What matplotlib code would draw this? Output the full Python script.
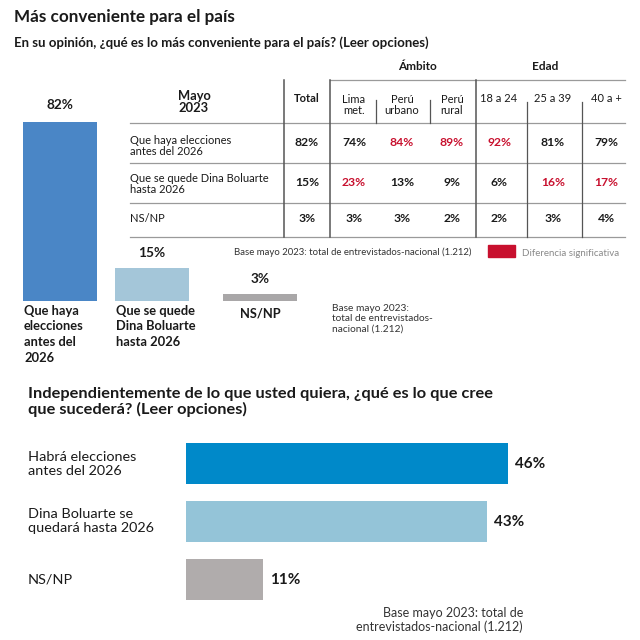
import matplotlib
matplotlib.use("Agg")
import matplotlib.pyplot as plt
from matplotlib.patches import Rectangle

plt.rcParams['font.family'] = ['Lato', 'DejaVu Sans']

# --- Datos ---
titulo = "Más conveniente para el país"
pregunta1 = "En su opinión, ¿qué es lo más conveniente para el país? (Leer opciones)"
pregunta2 = ("Independientemente de lo que usted quiera, ¿qué es lo que cree\n"
             "que sucederá? (Leer opciones)")
nota_base = "Base mayo 2023: total de entrevistados-nacional (1.212)"

cat_barras = ["Que haya\nelecciones\nantes del\n2026", "Que se quede\nDina Boluarte\nhasta 2026", "NS/NP"]
val_barras = [82, 15, 3]

filas_tabla = ["Que haya elecciones\nantes del 2026", "Que se quede Dina Boluarte\nhasta 2026", "NS/NP"]
cols_tabla = ["Total", "Lima\nmet.", "Perú\nurbano", "Perú\nrural", "18 a 24", "25 a 39", "40 a +"]
valores_tabla = [
    [82, 74, 84, 89, 92, 81, 79],
    [15, 23, 13, 9, 6, 16, 17],
    [3, 3, 3, 2, 2, 3, 4],
]
signif_tabla = [
    [False, False, True, True, True, False, False],
    [False, True, False, False, False, True, True],
    [False, False, False, False, False, False, False],
]

cat_futuro = ["Habrá elecciones\nantes del 2026", "Dina Boluarte se\nquedará hasta 2026", "NS/NP"]
val_futuro = [46, 43, 11]

# --- Estilo ---
ROJO = "#c8102e"
NEGRO = "#1a1a1a"
col_barras = ["#4a86c6", "#a4c6d9", "#a9a7a8"]
col_futuro = ["#0089c9", "#94c4d8", "#b0acac"]

fig = plt.figure(figsize=(6.4, 6.4), dpi=100)
fig.patch.set_facecolor("white")

# capa de fondo en coordenadas de pixel (origen arriba a la izquierda)
ax0 = fig.add_axes([0, 0, 1, 1])
ax0.set_xlim(0, 640)
ax0.set_ylim(640, 0)
ax0.axis("off")

ax0.text(14, 17, titulo, fontsize=12.3, fontweight="bold", color=NEGRO, va="center")
ax0.text(14, 43, pregunta1, fontsize=9.5, fontweight="bold", color=NEGRO, va="center")

# ----------------------------------------------------------------------
# 1) Barras verticales
# ----------------------------------------------------------------------
ax1 = fig.add_axes([0, (640 - 301) / 640, 320 / 640, 179 / 640])
ax1.set_xlim(0, 320)
ax1.set_ylim(0, max(val_barras))
ax1.axis("off")
pos_x = [60, 152, 260]
ax1.bar(pos_x, val_barras, width=74, color=col_barras)
for x, v in zip(pos_x, val_barras):
    off = 8 if v == max(val_barras) else 7
    ax1.annotate(f"{v}%", (x, v), xytext=(0, off), textcoords="offset points",
                 ha="center", va="bottom", fontsize=9.8, fontweight="bold", color=NEGRO)

ax0.text(24, 305, cat_barras[0], fontsize=9.3, fontweight="bold", color=NEGRO,
         va="top", ha="left", linespacing=1.35)
ax0.text(116, 305, cat_barras[1], fontsize=9.3, fontweight="bold", color=NEGRO,
         va="top", ha="left", linespacing=1.35)
ax0.text(260, 308, cat_barras[2], fontsize=9.3, fontweight="bold", color=NEGRO,
         va="top", ha="center")
ax0.text(332, 304, "Base mayo 2023:\ntotal de entrevistados-\nnacional (1.212)",
         fontsize=7.3, color="#333333", va="top", ha="left", linespacing=1.2)

# ----------------------------------------------------------------------
# 2) Tabla
# ----------------------------------------------------------------------
col_x = [307, 354, 402, 452, 499, 553, 606]
fila_y = [143, 182, 218]
fila_lbl_y = [146, 184, 218]
LG = "#9a9a9a"
LD = "#555555"

for y in [123, 163, 203, 237]:
    ax0.plot([130, 625], [y, y], color=LG, lw=0.9)
ax0.plot([330, 625], [80, 80], color=LG, lw=0.9)
for x in [284, 330, 476]:
    ax0.plot([x, x], [80, 237], color=LD, lw=1.1)
for x in [376, 430]:
    ax0.plot([x, x], [100, 123], color=LD, lw=0.9)
for x in [527, 582]:
    ax0.plot([x, x], [102, 237], color=LD, lw=0.9)

ax0.text(194, 102, "Mayo\n2023", fontsize=9.3, fontweight="bold", color=NEGRO,
         ha="center", va="center", linespacing=1.05)
ax0.text(417, 67, "Ámbito", fontsize=8.5, fontweight="bold", color=NEGRO, ha="center", va="center")
ax0.text(545, 67, "Edad", fontsize=8.5, fontweight="bold", color=NEGRO, ha="center", va="center")
for x, c in zip(col_x, cols_tabla):
    if "\n" in c:
        ax0.text(x, 105, c, fontsize=8, color=NEGRO, ha="center", va="center", linespacing=1.05)
    else:
        ax0.text(x, 98, c, fontsize=8, color=NEGRO, ha="center", va="center",
                 fontweight="bold" if c == "Total" else "normal")

for i, fila in enumerate(filas_tabla):
    ax0.text(130, fila_lbl_y[i], fila, fontsize=8, color=NEGRO, ha="left", va="center",
             linespacing=1.05)
    for j, v in enumerate(valores_tabla[i]):
        ax0.text(col_x[j], fila_y[i], f"{v}%", fontsize=8.7, fontweight="bold",
                 color=ROJO if signif_tabla[i][j] else NEGRO, ha="center", va="center")

ax0.text(234, 252, nota_base, fontsize=6.9, color="#333333", ha="left", va="center")
ax0.add_patch(Rectangle((488, 245), 27, 12, color=ROJO))
ax0.text(522, 253, "Diferencia significativa", fontsize=7, color="#8a8a8a", ha="left", va="center")

# ----------------------------------------------------------------------
# 3) Barras horizontales
# ----------------------------------------------------------------------
ax0.text(28, 402, pregunta2, fontsize=11.8, fontweight="bold", color=NEGRO,
         ha="left", va="center", linespacing=1.05)

ax2 = fig.add_axes([186 / 640, (640 - 608.5) / 640, 322 / 640, 174 / 640])
ax2.set_xlim(0, max(val_futuro))
ax2.set_ylim(2.5, -0.5)
ax2.axis("off")
pos_y = range(len(val_futuro))
ax2.barh(list(pos_y), val_futuro, height=0.72, color=col_futuro)
for y, v in zip(pos_y, val_futuro):
    ax2.annotate(f"{v}%", (v, y), xytext=(5, 0), textcoords="offset points",
                 ha="left", va="center", fontsize=11, fontweight="bold", color=NEGRO,
                 annotation_clip=False)

for y, c in zip([464, 521, 579], cat_futuro):
    ax0.text(28, y, c, fontsize=10.4, color=NEGRO, ha="left", va="center", linespacing=1.15)

ax0.text(523, 620, "Base mayo 2023: total de\nentrevistados-nacional (1.212)",
         fontsize=9, color="#333333", ha="right", va="center", linespacing=1.1)

fig.savefig("out.png", dpi=100, facecolor="white")
